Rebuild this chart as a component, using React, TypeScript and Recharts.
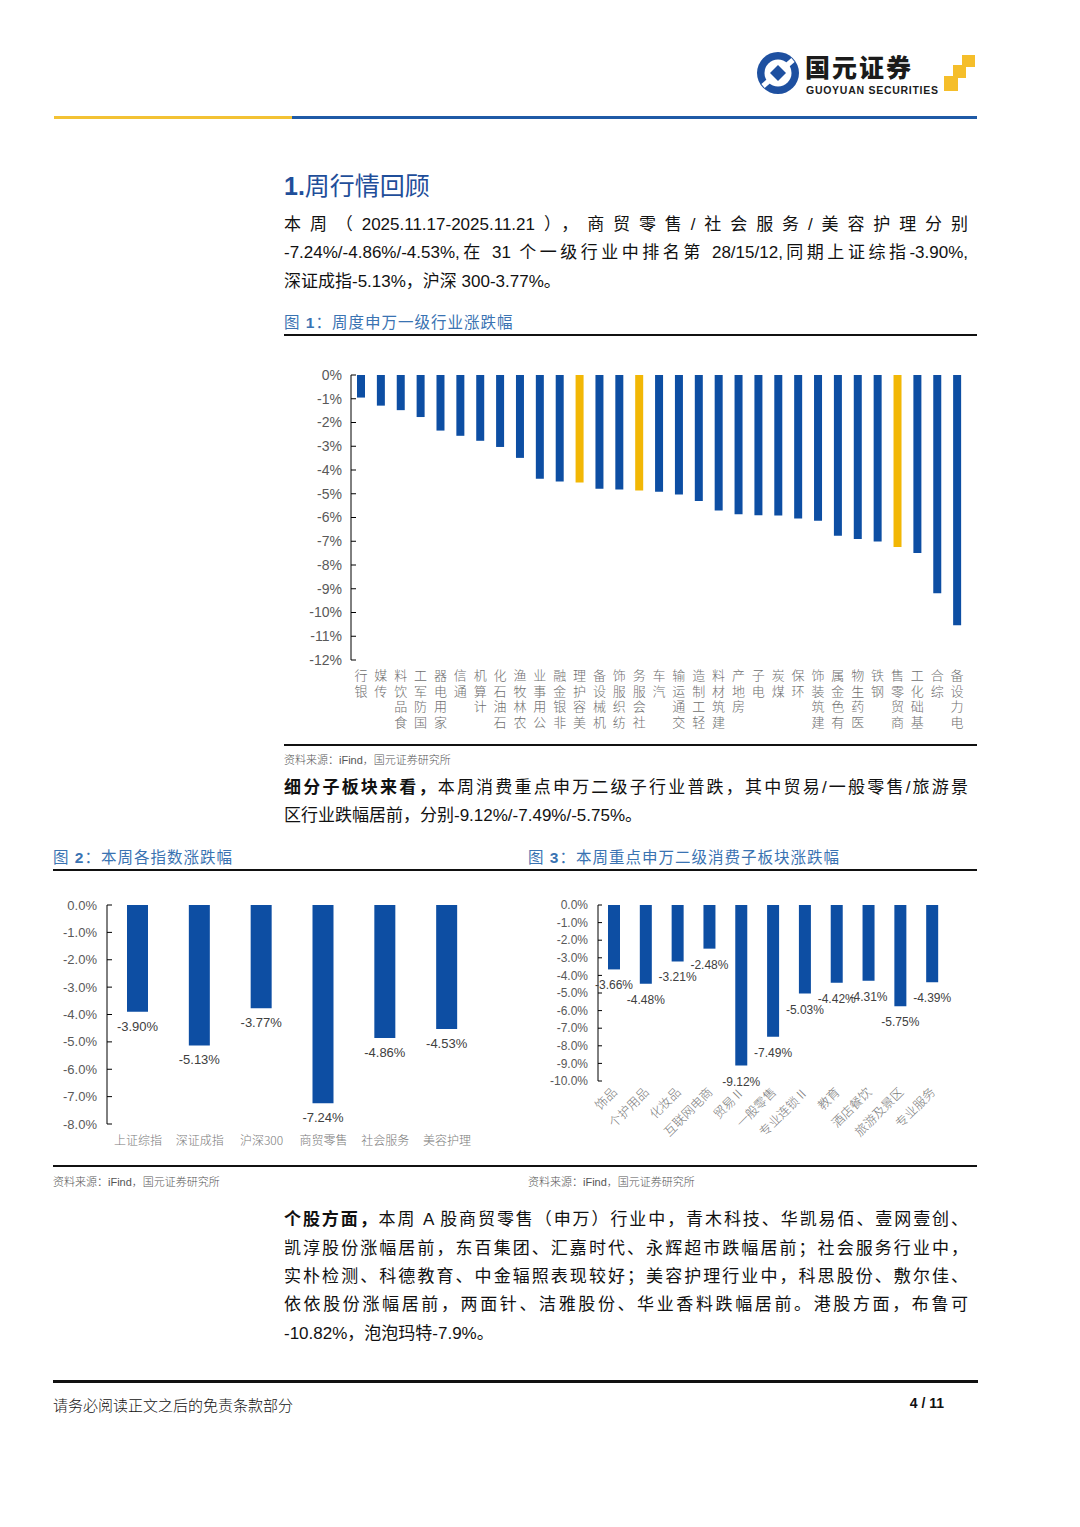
import { Bar, BarChart, Cell, LabelList, XAxis, YAxis } from 'recharts';

// 图1 申万一级行业周涨跌幅（%）
const INDUSTRY_NAMES = [
  '银行', '传媒', '食品饮料', '国防军工', '家用电器', '通信', '计算机', '石油石化',
  '农林牧渔', '公用事业', '非银金融', '美容护理', '机械设备', '纺织服饰', '社会服务', '汽车',
  '交通运输', '轻工制造', '建筑材料', '房地产', '电子', '煤炭', '环保', '建筑装饰',
  '有色金属', '医药生物', '钢铁', '商贸零售', '基础化工', '综合', '电力设备',
];
const INDUSTRY_CHG = [
  -0.95, -1.29, -1.48, -1.77, -2.34, -2.56, -2.77, -3.03,
  -3.49, -4.37, -4.48, -4.53, -4.79, -4.82, -4.86, -4.92,
  -5.03, -5.3, -5.7, -5.86, -5.91, -5.92, -6.04, -6.14,
  -6.77, -6.9, -7.01, -7.24, -7.49, -9.19, -10.54,
];
const FOCUS_INDUSTRIES = ['美容护理', '社会服务', '商贸零售'];
const INDUSTRY_TICKS = [0, -1, -2, -3, -4, -5, -6, -7, -8, -9, -10, -11, -12];

// 图2 各指数周涨跌幅（%）
const INDEX_NAMES = ['上证综指', '深证成指', '沪深300', '商贸零售', '社会服务', '美容护理'];
const INDEX_CHG = [-3.9, -5.13, -3.77, -7.24, -4.86, -4.53];
const INDEX_TICKS = [0, -1, -2, -3, -4, -5, -6, -7, -8];

// 图3 申万二级消费子板块周涨跌幅（%）
const SUB_NAMES = [
  '饰品', '个护用品', '化妆品', '互联网电商', '贸易Ⅱ', '一般零售',
  '专业连锁Ⅱ', '教育', '酒店餐饮', '旅游及景区', '专业服务',
];
const SUB_CHG = [-3.66, -4.48, -3.21, -2.48, -9.12, -7.49, -5.03, -4.42, -4.31, -5.75, -4.39];
const SUB_TICKS = [0, -1, -2, -3, -4, -5, -6, -7, -8, -9, -10];

const BLUE = '#0D4EA3';
const GOLD = '#F2B705';
const AXIS_GRAY = '#595959';
const FONT = '"Liberation Sans", Arial, "Noto Sans CJK SC", sans-serif';
const CJK = '"Noto Sans CJK SC", "Liberation Sans", sans-serif';

const edges = (n: number) => Array.from({ length: n + 1 }, (_, i) => i);

// 竖排标签：字正立、自下而上读
function StackedTick({ x, y, payload }: any) {
  const text = Array.from(String(payload.value)).reverse().join('');
  return (
    <text x={x} y={y + 1} textAnchor="start" fontSize={13} fill="#6e6e6e" fontFamily={CJK} fontWeight={300}
      letterSpacing={2.5} style={{ writingMode: 'vertical-rl', textOrientation: 'upright' }}>
      {text}
    </text>
  );
}

function FlatTick({ x, y, payload }: any) {
  return (
    <text x={x} y={y + 13} textAnchor="middle" fontSize={12} fill="#7a7a7a" fontFamily={CJK} fontWeight={300}>
      {payload.value}
    </text>
  );
}

function SlantTick({ x, y, payload }: any) {
  return (
    <text x={x + 4} y={y + 4} textAnchor="end" transform={`rotate(-45, ${x + 4}, ${y + 4})`}
      fontSize={12.5} fill="#7a7a7a" fontFamily={CJK} fontWeight={300}>
      {payload.value}
    </text>
  );
}

const endLabel = (fontSize: number, gap: number) => (p: any) => {
  const x = Number(p.x);
  const y = Number(p.y);
  const w = Number(p.width);
  const h = Number(p.height);
  const end = Math.max(y, y + h);
  return (
    <text x={x + w / 2} y={end + gap} textAnchor="middle" fontSize={fontSize} fill="#404040" fontFamily={FONT}>
      {`${Number(p.value).toFixed(2)}%`}
    </text>
  );
};

function IndustryChart() {
  const data = INDUSTRY_NAMES.map((name, i) => ({ name, value: INDUSTRY_CHG[i] }));
  return (
    <BarChart width={700} height={400} data={data} margin={{ top: 25, right: 17, bottom: 20, left: 0 }}>
      <XAxis xAxisId="edge" type="number" orientation="top" domain={[0, INDUSTRY_NAMES.length]}
        ticks={edges(INDUSTRY_NAMES.length)} allowDataOverflow height={0} tick={false}
        tickSize={5} axisLine={{ stroke: '#000' }} tickLine={{ stroke: '#000' }} />
      <XAxis xAxisId="cat" dataKey="name" interval={0} axisLine={false} tickLine={false}
        height={70} tick={<StackedTick />} />
      <YAxis domain={[-12, 0]} ticks={INDUSTRY_TICKS} width={67} tickSize={-5} tickMargin={14}
        tickFormatter={(v) => `${v}%`} axisLine={{ stroke: '#000' }} tickLine={{ stroke: '#000' }}
        tick={{ fontSize: 14, fill: AXIS_GRAY, fontFamily: FONT }} interval={0} />
      <Bar xAxisId="cat" dataKey="value" barSize={8} isAnimationActive={false}>
        {data.map((d) => (
          <Cell key={d.name} fill={FOCUS_INDUSTRIES.includes(d.name) ? GOLD : BLUE} />
        ))}
      </Bar>
    </BarChart>
  );
}

function IndexChart() {
  const data = INDEX_NAMES.map((name, i) => ({ name, value: INDEX_CHG[i] }));
  return (
    <BarChart width={440} height={270} data={data} margin={{ top: 15, right: 15, bottom: 10, left: 0 }}>
      <XAxis xAxisId="edge" type="number" orientation="top" domain={[0, INDEX_NAMES.length]}
        ticks={edges(INDEX_NAMES.length)} allowDataOverflow height={0} tick={false}
        tickSize={4} axisLine={{ stroke: '#000' }} tickLine={{ stroke: '#000' }} />
      <XAxis xAxisId="cat" dataKey="name" interval={0} axisLine={false} tickLine={false}
        height={26} tick={<FlatTick />} />
      <YAxis domain={[-8, 0]} ticks={INDEX_TICKS} width={54} tickSize={-5} tickMargin={15}
        tickFormatter={(v) => `${Number(v).toFixed(1)}%`} axisLine={{ stroke: '#000' }}
        tickLine={{ stroke: '#000' }} tick={{ fontSize: 13, fill: AXIS_GRAY, fontFamily: FONT }} interval={0} />
      <Bar xAxisId="cat" dataKey="value" barSize={21} fill={BLUE} isAnimationActive={false}>
        <LabelList dataKey="value" content={endLabel(13, 19)} />
      </Bar>
    </BarChart>
  );
}

function SubSectorChart() {
  const data = SUB_NAMES.map((name, i) => ({ name, value: SUB_CHG[i] }));
  return (
    <BarChart width={440} height={270} data={data} margin={{ top: 15, right: 20, bottom: 10, left: 0 }}>
      <XAxis xAxisId="edge" type="number" orientation="top" domain={[0, SUB_NAMES.length]}
        ticks={edges(SUB_NAMES.length)} allowDataOverflow height={0} tick={false}
        tickSize={4} axisLine={{ stroke: '#000' }} tickLine={{ stroke: '#000' }} />
      <XAxis xAxisId="cat" dataKey="name" interval={0} axisLine={false} tickLine={false}
        height={69} tick={<SlantTick />} />
      <YAxis domain={[-10, 0]} ticks={SUB_TICKS} width={70} tickSize={-4} tickMargin={14}
        tickFormatter={(v) => `${Number(v).toFixed(1)}%`} axisLine={{ stroke: '#000' }}
        tickLine={{ stroke: '#000' }} tick={{ fontSize: 12, fill: AXIS_GRAY, fontFamily: FONT }} interval={0} />
      <Bar xAxisId="cat" dataKey="value" barSize={12} fill={BLUE} isAnimationActive={false}>
        <LabelList dataKey="value" content={endLabel(12, 20)} />
      </Bar>
    </BarChart>
  );
}

const abs = (left: number, top: number, extra: any = {}) => ({ position: 'absolute' as const, left, top, ...extra });

function Rule({ left, top, width, height = 2, color = '#111' }: any) {
  return <div style={abs(left, top, { width, height, background: color })} />;
}

function Line({ top, children, last = false, left = 284, width = 684 }: any) {
  return (
    <div style={abs(left, top, {
      width, fontSize: 17, lineHeight: '28px', whiteSpace: 'nowrap', color: '#111',
      textAlign: 'justify', textAlignLast: last ? 'left' : 'justify', textJustify: 'inter-character',
    })}>
      {children}
    </div>
  );
}

function FigTitle({ left, top, num, text }: any) {
  return (
    <div style={abs(left, top, { fontSize: 15.5, color: '#3A73B2', letterSpacing: 1 })}>
      图 <b>{num}</b>：{text}
    </div>
  );
}

function Source({ left, top }: any) {
  return (
    <div style={abs(left, top, { fontSize: 11, color: '#555', fontWeight: 300 })}>
      资料来源：iFind，国元证券研究所
    </div>
  );
}

function Logo() {
  return (
    <svg style={abs(754, 48)} width={226} height={52}>
      <circle cx={24} cy={25} r={21} fill="#1E50A0" />
      <circle cx={24} cy={25} r={13.5} fill="#fff" />
      <path d="M9 38 L39 12" stroke="#fff" strokeWidth={5} />
      <polygon points="24,17 32,25 24,33 16,25" fill="#1E50A0" />
      <text x={51} y={29} fontSize={25} fontWeight={900} fill="#1b1b1b" fontFamily={CJK} letterSpacing={2}>
        国元证券
      </text>
      <text x={52} y={46} fontSize={10.5} fontWeight={700} fill="#1b1b1b" fontFamily={FONT} textLength={132}>
        GUOYUAN SECURITIES
      </text>
      <rect x={190} y={28} width={14} height={15} fill="#F5BE2A" />
      <rect x={199} y={17} width={13} height={13} fill="#F5BE2A" />
      <rect x={208} y={7} width={13} height={12} fill="#F5BE2A" />
    </svg>
  );
}

export default function App() {
  return (
    <div style={abs(0, 0, { width: 1080, height: 1527, background: '#fff', overflow: 'hidden', fontFamily: FONT })}>
      <Logo />
      <Rule left={54} top={116} width={238} height={3} color="#F3C234" />
      <Rule left={292} top={116} width={685} height={3} color="#1F5AA6" />

      <div style={abs(284, 166, { fontSize: 25, color: '#1F4E9A', fontFamily: CJK })}>
        <b style={{ fontFamily: FONT }}>1.</b>周行情回顾
      </div>

      <Line top={211}>本周（2025.11.17-2025.11.21），商贸零售/社会服务/美容护理分别</Line>
      <Line top={239}>-7.24%/-4.86%/-4.53%,在 31 个一级行业中排名第 28/15/12,同期上证综指-3.90%,</Line>
      <Line top={268} last>深证成指-5.13%，沪深 300-3.77%。</Line>

      <FigTitle left={284} top={310} num="1" text="周度申万一级行业涨跌幅" />
      <Rule left={284} top={334} width={693} height={2} />
      <div style={abs(284, 350)}>
        <IndustryChart />
      </div>
      <Rule left={284} top={744} width={693} height={2} />
      <Source left={284} top={751} />

      <Line top={774}><b>细分子板块来看，</b>本周消费重点申万二级子行业普跌，其中贸易/一般零售/旅游景</Line>
      <Line top={802} last>区行业跌幅居前，分别-9.12%/-7.49%/-5.75%。</Line>

      <FigTitle left={53} top={845} num="2" text="本周各指数涨跌幅" />
      <FigTitle left={528} top={845} num="3" text="本周重点申万二级消费子板块涨跌幅" />
      <Rule left={53} top={869} width={924} height={2} />
      <div style={abs(53, 890)}>
        <IndexChart />
      </div>
      <div style={abs(528, 890)}>
        <SubSectorChart />
      </div>
      <Rule left={53} top={1165} width={924} height={2} />
      <Source left={53} top={1173} />
      <Source left={528} top={1173} />

      <Line top={1206}><b>个股方面，</b>本周 A 股商贸零售（申万）行业中，青木科技、华凯易佰、壹网壹创、</Line>
      <Line top={1235}>凯淳股份涨幅居前，东百集团、汇嘉时代、永辉超市跌幅居前；社会服务行业中，</Line>
      <Line top={1263}>实朴检测、科德教育、中金辐照表现较好；美容护理行业中，科思股份、敷尔佳、</Line>
      <Line top={1291}>依依股份涨幅居前，两面针、洁雅股份、华业香料跌幅居前。港股方面，布鲁可</Line>
      <Line top={1320} last>-10.82%，泡泡玛特-7.9%。</Line>

      <Rule left={53} top={1380} width={925} height={3} />
      <div style={abs(53, 1394, { fontSize: 15, color: '#111', fontWeight: 300, fontFamily: CJK })}>
        请务必阅读正文之后的免责条款部分
      </div>
      <div style={abs(880, 1395, { width: 64, textAlign: 'right', fontSize: 14, fontWeight: 700, color: '#111' })}>
        4 / 11
      </div>
    </div>
  );
}
